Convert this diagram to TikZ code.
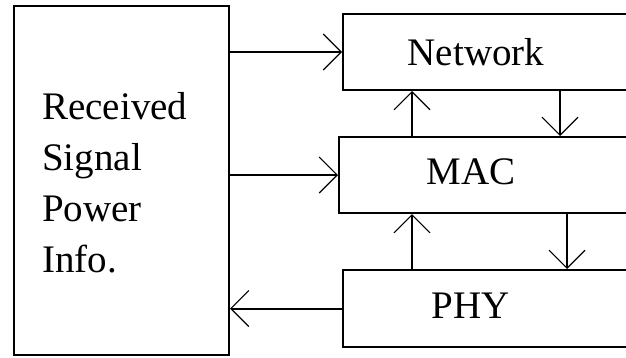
\documentclass[tikz,border=0pt]{standalone}
\usepackage{fontspec}
\setmainfont{Liberation Serif}
\usetikzlibrary{arrows.meta}
\begin{document}
\begin{tikzpicture}[x=1pt,y=-1pt,
  box/.style={draw, line width=2pt, inner sep=0pt, anchor=north west},
  lbl/.style={font=\fontsize{39}{51}\selectfont, inner sep=0pt},
  arr/.style={line width=2pt, -{Straight Barb[length=18pt, width=36pt, line width=1.1pt]}}]
  \useasboundingbox (0,0) rectangle (626,357);
  \clip (0,0) rectangle (626,357);
  % left block
  \node[box, minimum width=215pt, minimum height=349pt] (L) at (13,5) {};
  \node[lbl, align=left, anchor=north west] (Lt) at (42,92)
    {Received\\Signal\\Power\\Info.};
  % protocol stack, boxes run off the right edge
  \node[box, minimum width=320pt, minimum height=76pt] (N) at (342,13) {};
  \node[box, minimum width=320pt, minimum height=76pt] (M) at (338,136) {};
  \node[box, minimum width=320pt, minimum height=77pt] (P) at (342,269) {};
  \node[lbl] (Nt) at (476,52) {Network};
  \node[lbl] (Mt) at (471,172) {MAC};
  \node[lbl] (Pt) at (471,306) {PHY};
  % anchor points for the vertical links
  \coordinate (up1) at ([xshift=70pt]N.south west);
  \coordinate (dn1) at ([xshift=218pt]N.south west);
  \coordinate (up2) at ([xshift=74pt]M.south west);
  \coordinate (dn2) at ([xshift=229pt]M.south west);
  % horizontal links
  \draw[arr] (L.east |- N.west) -- (N.west);
  \draw[arr] (L.east |- M.west) -- (M.west);
  \draw[arr] (P.west) -- (L.east |- P.west);
  % vertical links
  \draw[arr] (up1 |- M.north) -- (up1);
  \draw[arr] (dn1) -- (dn1 |- M.north);
  \draw[arr] (up2 |- P.north) -- (up2);
  \draw[arr] (dn2) -- (dn2 |- P.north);
\end{tikzpicture}
\end{document}
